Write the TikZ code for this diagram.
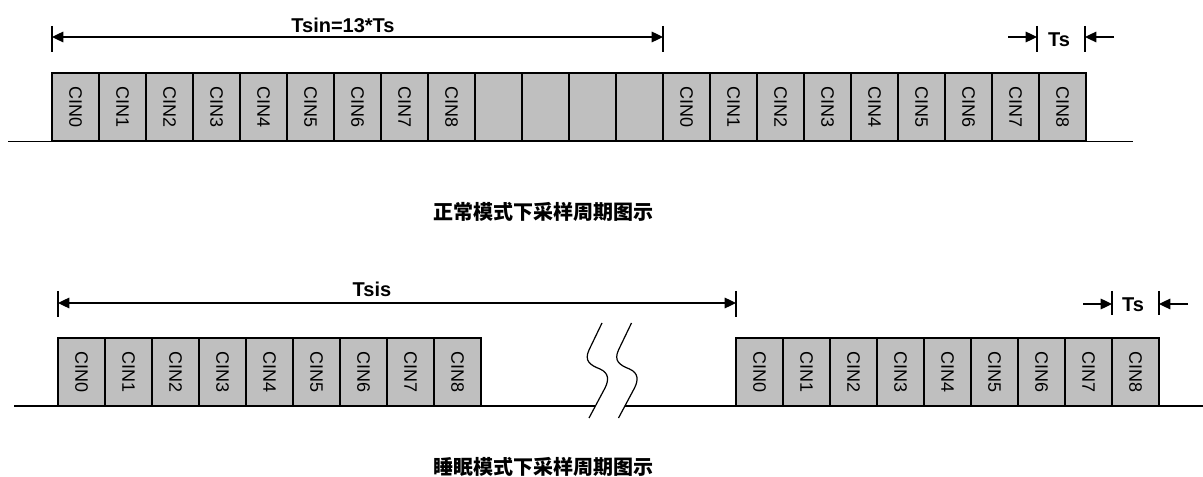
\documentclass[tikz,border=0pt]{standalone}
\usepackage{fontspec}
\setmainfont{Liberation Sans}
\newfontfamily\cjk{Noto Sans CJK SC}
\usetikzlibrary{arrows.meta}

\begin{document}
\begin{tikzpicture}[x=0.75pt,y=-0.75pt,line width=0.9pt,
  cin/.style={draw,fill=gray!50,rotate=-90,minimum width=51pt,minimum height=35.25pt,inner sep=0pt,font=\fontsize{13.5}{15}\selectfont},
  lbl/.style={inner sep=0pt,font=\fontsize{15}{17}\selectfont\bfseries},
  captext/.style={inner sep=0pt,font=\fontsize{15}{17}\selectfont\cjk\bfseries},
  dim/.style={{Triangle[length=8.5pt,width=8pt]}-{Triangle[length=8.5pt,width=8pt]}},
  tip/.style={-{Triangle[length=8.5pt,width=8pt]}}]
  \useasboundingbox (0,0) rectangle (1203,477);
  % normal mode
  \draw (8,141.5) -- (1133,141.5);
  \node[cin] (a0) at (75.5,107) {CIN0};
  \node[cin] (a1) at (122.5,107) {CIN1};
  \node[cin] (a2) at (169.5,107) {CIN2};
  \node[cin] (a3) at (216.5,107) {CIN3};
  \node[cin] (a4) at (263.5,107) {CIN4};
  \node[cin] (a5) at (310.5,107) {CIN5};
  \node[cin] (a6) at (357.5,107) {CIN6};
  \node[cin] (a7) at (404.5,107) {CIN7};
  \node[cin] (a8) at (451.5,107) {CIN8};
  \node[cin] (e1) at (498.5,107) {};
  \node[cin] (e2) at (545.5,107) {};
  \node[cin] (e3) at (592.5,107) {};
  \node[cin] (e4) at (639.5,107) {};
  \node[cin] (b0) at (686.5,107) {CIN0};
  \node[cin] (b1) at (733.5,107) {CIN1};
  \node[cin] (b2) at (780.5,107) {CIN2};
  \node[cin] (b3) at (827.5,107) {CIN3};
  \node[cin] (b4) at (874.5,107) {CIN4};
  \node[cin] (b5) at (921.5,107) {CIN5};
  \node[cin] (b6) at (968.5,107) {CIN6};
  \node[cin] (b7) at (1015.5,107) {CIN7};
  \node[cin] (b8) at (1062.5,107) {CIN8};
  \draw (52,26) -- (52,52);
  \draw (663,26) -- (663,52);
  \draw (1037,26) -- (1037,52);
  \draw (1085,26) -- (1085,52);
  \coordinate (tsinl) at (52,37);
  \coordinate (tsinr) at (663,37);
  \coordinate (tsa) at (1008,37);
  \coordinate (tsb) at (1037,37);
  \coordinate (tsc) at (1114,37);
  \coordinate (tsd) at (1085,37);
  \draw[dim] (tsinl) -- (tsinr);
  \draw[tip] (tsa) -- (tsb);
  \draw[tip] (tsc) -- (tsd);
  \node[lbl] (tsin) at (343,25) {Tsin=13*Ts};
  \node[lbl] (ts1) at (1059,40) {Ts};
  \node[captext] (cap1) at (543,212) {正常模式下采样周期图示};
  % sleep mode
  \draw (14,406) -- (595,406);
  \draw (624.5,406) -- (1203,406);
  \draw (602,323) -- (589,350) .. controls (584,361) and (590,365) .. (600,369) .. controls (609,373) and (609,380) .. (605,388) -- (589,418);
  \draw (631.5,323) -- (618.5,350) .. controls (613.5,361) and (619.5,365) .. (629.5,369) .. controls (638.5,373) and (638.5,380) .. (634.5,388) -- (618.5,418);
  \node[cin] (c0) at (81.5,372) {CIN0};
  \node[cin] (c1) at (128.5,372) {CIN1};
  \node[cin] (c2) at (175.5,372) {CIN2};
  \node[cin] (c3) at (222.5,372) {CIN3};
  \node[cin] (c4) at (269.5,372) {CIN4};
  \node[cin] (c5) at (316.5,372) {CIN5};
  \node[cin] (c6) at (363.5,372) {CIN6};
  \node[cin] (c7) at (410.5,372) {CIN7};
  \node[cin] (c8) at (457.5,372) {CIN8};
  \node[cin] (d0) at (759.5,372) {CIN0};
  \node[cin] (d1) at (806.5,372) {CIN1};
  \node[cin] (d2) at (853.5,372) {CIN2};
  \node[cin] (d3) at (900.5,372) {CIN3};
  \node[cin] (d4) at (947.5,372) {CIN4};
  \node[cin] (d5) at (994.5,372) {CIN5};
  \node[cin] (d6) at (1041.5,372) {CIN6};
  \node[cin] (d7) at (1088.5,372) {CIN7};
  \node[cin] (d8) at (1135.5,372) {CIN8};
  \draw (58,291) -- (58,317);
  \draw (736,291) -- (736,317);
  \draw (1112,291) -- (1112,315);
  \draw (1159,291) -- (1159,315);
  \coordinate (tsisl) at (58,303);
  \coordinate (tsisr) at (736,303);
  \coordinate (tse) at (1083,304);
  \coordinate (tsf) at (1112,304);
  \coordinate (tsg) at (1188,304);
  \coordinate (tsh) at (1159,304);
  \draw[dim] (tsisl) -- (tsisr);
  \draw[tip] (tse) -- (tsf);
  \draw[tip] (tsg) -- (tsh);
  \node[lbl] (tsis) at (372,289) {Tsis};
  \node[lbl] (ts2) at (1133,305) {Ts};
  \node[captext] (cap2) at (543,467) {睡眠模式下采样周期图示};
\end{tikzpicture}
\end{document}
